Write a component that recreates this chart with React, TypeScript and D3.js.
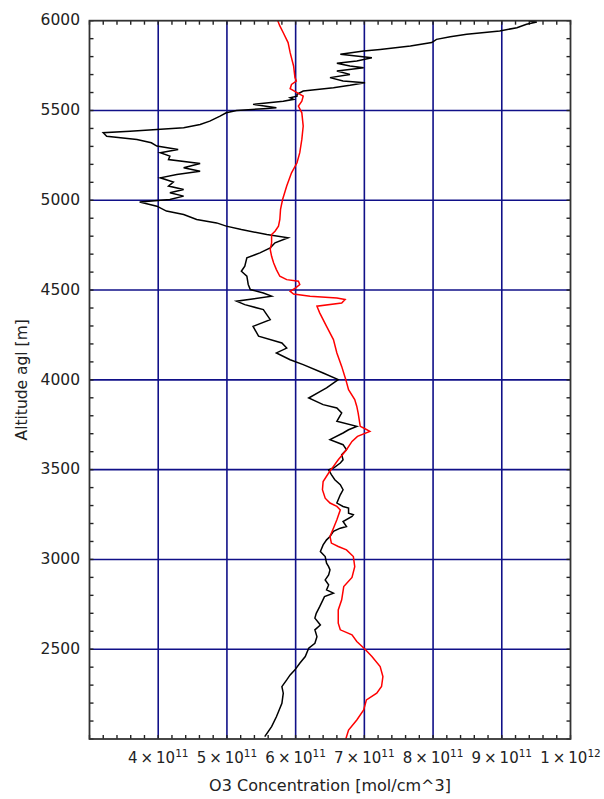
import React from "react";
import * as d3 from "d3";

// Black profile: altitude [m] and O3 concentration [1e11 mol/cm^3]
const blackAlt = [
  2013, 2069, 2124, 2152, 2199, 2255, 2292, 2329, 2357, 2385, 2422, 2459, 2506, 2533, 2570, 2608, 2635, 2673, 2700, 2737,
  2793, 2812, 2830, 2858, 2886, 2914, 2942, 2960, 2979, 3016, 3044, 3081, 3109, 3128, 3156, 3174, 3183, 3211, 3239, 3249,
  3258, 3286, 3295, 3314, 3360, 3388, 3416, 3444, 3472, 3499, 3509, 3537, 3555, 3583, 3611, 3639, 3667, 3704, 3722, 3741,
  3769, 3816, 3843, 3862, 3899, 3936, 3955, 4001, 4038, 4085, 4112, 4150, 4177, 4205, 4243, 4298, 4335, 4363, 4391, 4419,
  4438, 4466, 4484, 4503, 4531, 4577, 4605, 4633, 4679, 4707, 4735, 4763, 4791, 4809, 4837, 4856, 4874, 4893, 4921, 4940,
  4967, 4990, 5004, 5023, 5042, 5060, 5079, 5101, 5125, 5144, 5162, 5181, 5205, 5227, 5246, 5265, 5283, 5302, 5320, 5339,
  5357, 5376, 5385, 5404, 5422, 5441, 5469, 5487, 5500, 5510, 5515, 5534, 5552, 5562, 5571, 5580, 5590, 5608, 5627, 5640,
  5655, 5664, 5683, 5701, 5720, 5738, 5748, 5763, 5776, 5794, 5813, 5831, 5840, 5859, 5878, 5896, 5911, 5924, 5943, 5961,
  5980, 5993, 5998,
];
const blackVal = [
  5.55, 5.65, 5.72, 5.75, 5.8, 5.82, 5.8, 5.87, 5.92, 5.99, 6.06, 6.14, 6.19, 6.28, 6.31, 6.28, 6.36, 6.28, 6.3, 6.35,
  6.42, 6.55, 6.45, 6.48, 6.43, 6.48, 6.5, 6.48, 6.45, 6.43, 6.36, 6.4, 6.45, 6.5, 6.55, 6.65, 6.74, 6.69, 6.82, 6.84,
  6.77, 6.77, 6.69, 6.6, 6.65, 6.69, 6.65, 6.57, 6.52, 6.48, 6.55, 6.65, 6.69, 6.67, 6.74, 6.69, 6.5, 6.69, 6.77, 6.89,
  6.6, 6.67, 6.6, 6.4, 6.19, 6.36, 6.45, 6.62, 6.4, 6.11, 5.92, 5.72, 5.87, 5.8, 5.46, 5.38, 5.63, 5.58, 5.53, 5.26,
  5.14, 5.65, 5.53, 5.34, 5.31, 5.29, 5.21, 5.26, 5.29, 5.48, 5.63, 5.7, 5.89, 5.58, 5.21, 4.99, 4.85, 4.56, 4.37, 4.12,
  3.98, 3.73, 4.17, 4.37, 4.17, 4.37, 4.15, 4.22, 4.03, 4.27, 4.61, 4.37, 4.61, 4.15, 4.17, 4.03, 4.29, 3.98, 3.9, 3.69,
  3.25, 3.2, 3.59, 4.37, 4.61, 4.75, 4.9, 4.99, 5.14, 5.53, 5.72, 5.38, 5.82, 5.97, 5.92, 6.02, 6.02, 6.11, 6.55, 6.79,
  7.01, 6.69, 6.5, 6.79, 6.6, 6.99, 6.79, 6.6, 6.89, 7.11, 6.65, 6.99, 7.23, 7.67, 7.98, 8.05, 8.25, 8.49, 8.97, 9.22,
  9.36, 9.51, 9.4,
];

// Red profile
const redAlt = [
  2000, 2050, 2106, 2162, 2218, 2255, 2292, 2348, 2403, 2459, 2500, 2543, 2580, 2608, 2645, 2719, 2775, 2849, 2900, 2960,
  3016, 3053, 3072, 3091, 3128, 3174, 3221, 3276, 3295, 3314, 3341, 3388, 3434, 3481, 3518, 3555, 3611, 3657, 3685, 3713,
  3732, 3741, 3815, 3852, 3890, 3945, 4001, 4075, 4150, 4224, 4298, 4373, 4410, 4428, 4447, 4456, 4466, 4478, 4493, 4512,
  4531, 4549, 4558, 4577, 4614, 4651, 4688, 4726, 4763, 4809, 4828, 4856, 4893, 4949, 5004, 5079, 5153, 5209, 5265, 5339,
  5413, 5487, 5525, 5552, 5580, 5599, 5621, 5645, 5664, 5683, 5748, 5822, 5878, 5933, 5971, 6000,
];
const redVal = [
  6.73, 6.77, 6.89, 6.99, 7.03, 7.18, 7.25, 7.27, 7.23, 7.11, 7.01, 6.89, 6.82, 6.65, 6.62, 6.62, 6.67, 6.7, 6.82, 6.86,
  6.84, 6.74, 6.62, 6.52, 6.5, 6.55, 6.6, 6.65, 6.6, 6.5, 6.43, 6.39, 6.4, 6.48, 6.55, 6.62, 6.74, 6.82, 6.9, 7.08,
  6.99, 6.94, 6.91, 6.89, 6.86, 6.77, 6.73, 6.67, 6.6, 6.55, 6.45, 6.35, 6.31, 6.67, 6.72, 6.6, 6.21, 5.97, 5.92, 6.0,
  6.06, 6.04, 5.87, 5.77, 5.72, 5.68, 5.65, 5.63, 5.65, 5.65, 5.7, 5.75, 5.77, 5.78, 5.81, 5.87, 5.94, 6.02, 6.06, 6.09,
  6.11, 6.09, 6.04, 6.09, 6.11, 6.02, 5.92, 5.94, 6.01, 5.99, 5.97, 5.92, 5.89, 5.82, 5.77, 5.74,
];

const xTickValues = [4, 5, 6, 7, 8, 9, 10];
const yTickValues = [2500, 3000, 3500, 4000, 4500, 5000, 5500, 6000];

const W = 604;
const H = 799;
const L = 89.5;
const R = 570.5;
const T = 20.7;
const B = 739;

export default function App() {
  const x = d3.scaleLinear().domain([3, 10]).range([L, R]);
  const y = d3.scaleLinear().domain([2000, 6000]).range([B, T]);

  const line = d3
    .line<[number, number]>()
    .x((d) => x(d[1]))
    .y((d) => y(d[0]));

  const blackPts: [number, number][] = blackAlt.map((a, i) => [a, blackVal[i]]);
  const redPts: [number, number][] = redAlt.map((a, i) => [a, redVal[i]]);

  const xMinor = d3.range(3, 10.001, 0.2);
  const yMinor = d3.range(2000, 6000.1, 100);

  const font = "'DejaVu Sans', Verdana, sans-serif";
  const txt = "#222";

  return (
    <svg
      width={W}
      height={H}
      style={{ position: "absolute", left: 0, top: 0, background: "#fff" }}
    >
      <defs>
        <clipPath id="plotClip">
          <rect x={L} y={T} width={R - L} height={B - T} />
        </clipPath>
      </defs>
      {/* grid */}
      <g stroke="#101088" strokeWidth={1.6}>
        {xTickValues
          .filter((v) => v < 10)
          .map((v) => (
            <line key={"gx" + v} x1={x(v)} x2={x(v)} y1={T} y2={B} />
          ))}
        {yTickValues
          .filter((v) => v < 6000)
          .map((v) => (
            <line key={"gy" + v} x1={L} x2={R} y1={y(v)} y2={y(v)} />
          ))}
      </g>
      {/* minor ticks */}
      <g stroke="#222" strokeWidth={1.4}>
        {xMinor.map((v, i) => (
          <g key={"mx" + i}>
            <line x1={x(v)} x2={x(v)} y1={B} y2={B - 4} />
            <line x1={x(v)} x2={x(v)} y1={T} y2={T + 4} />
          </g>
        ))}
        {yMinor.map((v, i) => (
          <g key={"my" + i}>
            <line x1={L} x2={L + 4} y1={y(v)} y2={y(v)} />
            <line x1={R} x2={R - 4} y1={y(v)} y2={y(v)} />
          </g>
        ))}
      </g>
      {/* data lines */}
      <g clipPath="url(#plotClip)" fill="none">
        <path d={line(blackPts) || ""} stroke="#000" strokeWidth={1.5} />
        <path d={line(redPts) || ""} stroke="#ff0000" strokeWidth={1.5} />
      </g>
      {/* frame */}
      <rect x={L} y={T} width={R - L} height={B - T} fill="none" stroke="#333" strokeWidth={1.8} />
      {/* y tick labels */}
      <g fontFamily={font} fontSize={15.5} fill={txt} textAnchor="end">
        {yTickValues.map((v) => (
          <text key={"yl" + v} x={80} y={y(v)} dy="0.3em">
            {v}
          </text>
        ))}
      </g>
      {/* x tick labels */}
      <g fontFamily={font} fontSize={15} fill={txt} textAnchor="middle">
        {xTickValues.map((v) => (
          <text key={"xl" + v} x={x(v)} y={763}>
            {v < 10 ? `${v}` : "1"}
            {"\u2009\u00d7\u200910"}
            <tspan fontSize={10.5} dy={-6}>
              {v < 10 ? "11" : "12"}
            </tspan>
          </text>
        ))}
      </g>
      {/* axis titles */}
      <text
        x={(L + R) / 2}
        y={791}
        textAnchor="middle"
        fontFamily={font}
        fontSize={16}
        fill={txt}
      >
        O3 Concentration [mol/cm^3]
      </text>
      <text
        transform={`translate(27, ${(T + B) / 2}) rotate(-90)`}
        textAnchor="middle"
        fontFamily={font}
        fontSize={15.5}
        fill={txt}
      >
        Altitude agl [m]
      </text>
    </svg>
  );
}
